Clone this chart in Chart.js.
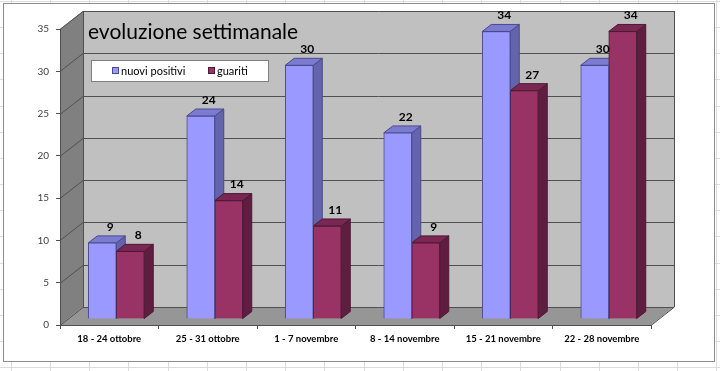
<!DOCTYPE html>
<html>
<head>
<meta charset="utf-8">
<script src="https://cdn.jsdelivr.net/npm/chart.js@4"></script>
<style>
  html, body { margin: 0; padding: 0; background: #fff; }
  #wrap { width: 720px; height: 371px; }
</style>
</head>
<body>
<div id="wrap"><canvas id="grafico" width="720" height="371"></canvas></div>
<script>
// dati
const settimane = ['18 - 24 ottobre', '25 - 31 ottobre', '1 - 7 novembre', '8 - 14 novembre', '15 - 21 novembre', '22 - 28 novembre'];
const nuoviPositivi = [9, 24, 30, 22, 34, 30];
const guariti = [8, 14, 11, 9, 27, 34];
const yTicks = [0, 5, 10, 15, 20, 25, 30, 35];
const titolo = 'evoluzione settimanale';

// colori: fronte, sopra, lato, bordo
const colBlu = ['#9999ff', '#7b7bd2', '#6363ae', '#4a4a8a'];
const colRosso = ['#993366', '#7a2853', '#5f1e40', '#4d1933'];

// profondita' della scatola 3D e delle barre
const DX = 23, DY = 18;
const BX = 7, BY = 6;
const SX = 9, SY = 7;

function poly(ctx, pts) {
    ctx.beginPath();
    ctx.moveTo(pts[0][0], pts[0][1]);
    for (let i = 1; i < pts.length; i++) ctx.lineTo(pts[i][0], pts[i][1]);
    ctx.closePath();
}

const scatola3d = {
    id: 'scatola3d',
    beforeDraw(chart) {
        const ctx = chart.ctx;
        const { left, right } = chart.chartArea;
        const ys = chart.scales.y;
        const y0 = ys.getPixelForValue(yTicks[0]);
        const yTop = ys.getPixelForValue(yTicks[yTicks.length - 1]);
        ctx.save();
        // foglio di calcolo dietro
        ctx.fillStyle = '#fff';
        ctx.fillRect(0, 0, chart.width, chart.height);
        ctx.strokeStyle = '#dcdcdc';
        ctx.lineWidth = 1;
        ctx.beginPath();
        for (let x = 10.8; x < chart.width; x += 39.2) {
            const px = Math.round(x) + 0.5;
            ctx.moveTo(px, 0); ctx.lineTo(px, chart.height);
        }
        for (let y = 1; y < chart.height; y += 26.15) {
            const py = Math.round(y) + 0.5;
            ctx.moveTo(0, py); ctx.lineTo(chart.width, py);
        }
        ctx.stroke();
        // cornice del grafico
        ctx.fillStyle = '#fff';
        ctx.fillRect(3, 3, 712, 359);
        ctx.strokeStyle = '#8c8c8c';
        ctx.strokeRect(3.5, 3.5, 711, 358);

        // parete sinistra
        ctx.fillStyle = '#808080';
        poly(ctx, [[left, yTop], [left + DX, yTop - DY], [left + DX, y0 - DY], [left, y0]]);
        ctx.fill();
        // parete di fondo
        ctx.fillStyle = '#c0c0c0';
        ctx.fillRect(left + DX, yTop - DY, right - left, y0 - yTop);
        // pavimento
        ctx.fillStyle = '#969696';
        poly(ctx, [[left, y0], [right, y0], [right + DX, y0 - DY], [left + DX, y0 - DY]]);
        ctx.fill();

        // griglia
        ctx.strokeStyle = '#505050';
        ctx.lineWidth = 1;
        ctx.beginPath();
        yTicks.forEach(v => {
            const py = Math.round(ys.getPixelForValue(v)) + 0.5;
            ctx.moveTo(left, py);
            ctx.lineTo(left + DX, py - DY);
            ctx.lineTo(right + DX, py - DY);
        });
        ctx.moveTo(left + DX + 0.5, yTop - DY);
        ctx.lineTo(left + DX + 0.5, y0 - DY);
        ctx.moveTo(right + DX + 0.5, yTop - DY);
        ctx.lineTo(right + DX + 0.5, y0 - DY);
        ctx.lineTo(right, y0 + 0.5);
        ctx.stroke();

        // titolo
        ctx.fillStyle = '#000';
        ctx.font = '21px Lato';
        ctx.textBaseline = 'alphabetic';
        ctx.textAlign = 'left';
        ctx.fillText(titolo, 88, 39);

        // legenda
        ctx.fillStyle = '#fff';
        ctx.fillRect(91, 60, 177, 21);
        ctx.strokeStyle = '#808080';
        ctx.strokeRect(91.5, 60.5, 177, 21);
        const voci = [[112, 121], [208, 217]];
        ctx.font = '11px Lato';
        ctx.textBaseline = 'middle';
        chart.data.datasets.forEach((ds, i) => {
            ctx.fillStyle = ds.backgroundColor;
            ctx.fillRect(voci[i][0], 67, 7, 7);
            ctx.strokeStyle = ds.borderColor;
            ctx.strokeRect(voci[i][0] + 0.5, 67.5, 6, 6);
            ctx.fillStyle = '#000';
            ctx.fillText(ds.label, voci[i][1], 71);
        });
        ctx.restore();
    },
    beforeDatasetsDraw(chart) {
        const ctx = chart.ctx;
        ctx.save();
        ctx.translate(BX, -BY);
        // lati e tetti prima dei fronti
        chart.data.datasets.forEach((ds, i) => {
            const c = ds.facce;
            chart.getDatasetMeta(i).data.forEach(bar => {
                const x1 = bar.x - bar.width / 2, x2 = bar.x + bar.width / 2;
                const yt = bar.y, yb = bar.base;
                ctx.lineWidth = 1;
                ctx.strokeStyle = c[3];
                ctx.fillStyle = c[2];
                poly(ctx, [[x2, yt], [x2 + SX, yt - SY], [x2 + SX, yb - SY], [x2, yb]]);
                ctx.fill(); ctx.stroke();
                ctx.fillStyle = c[1];
                poly(ctx, [[x1, yt], [x2, yt], [x2 + SX, yt - SY], [x1 + SX, yt - SY]]);
                ctx.fill(); ctx.stroke();
            });
        });
    },
    afterDatasetsDraw(chart) {
        const ctx = chart.ctx;
        ctx.restore();
        ctx.save();
        ctx.fillStyle = '#000';
        ctx.font = 'bold 12px Lato';
        ctx.textAlign = 'center';
        ctx.textBaseline = 'middle';
        chart.data.datasets.forEach((ds, i) => {
            chart.getDatasetMeta(i).data.forEach((bar, j) => {
                ctx.fillText(String(ds.data[j]), bar.x + BX + 8, bar.y - BY - 16);
            });
        });
        ctx.restore();
    }
};

new Chart(document.getElementById('grafico'), {
    type: 'bar',
    data: {
        labels: settimane,
        datasets: [{
            label: 'nuovi positivi',
            data: nuoviPositivi,
            backgroundColor: colBlu[0],
            borderColor: colBlu[3],
            borderWidth: 1,
            facce: colBlu,
            barThickness: 28
        }, {
            label: 'guariti',
            data: guariti,
            backgroundColor: colRosso[0],
            borderColor: colRosso[3],
            borderWidth: 1,
            facce: colRosso,
            barThickness: 28
        }]
    },
    options: {
        responsive: false,
        animation: false,
        layout: { padding: { left: 10, right: 69, top: 29, bottom: 10 } },
        plugins: {
            legend: { display: false },
            tooltip: { enabled: false }
        },
        scales: {
            x: {
                offset: true,
                afterFit(s) { s.height = 36; },
                grid: { offset: true, drawOnChartArea: false, tickLength: 4, color: '#505050' },
                border: { color: '#505050' },
                ticks: {
                    autoSkip: false,
                    maxRotation: 0,
                    padding: 4,
                    color: '#000',
                    font: { family: 'Lato', size: 9.5, weight: 'bold' }
                }
            },
            y: {
                min: 0,
                max: 35,
                afterFit(s) { s.width = 50; },
                afterBuildTicks(s) { s.ticks = yTicks.map(v => ({ value: v })); },
                grid: { drawOnChartArea: false, tickLength: 4, color: '#505050' },
                border: { color: '#505050' },
                ticks: {
                    padding: 7,
                    color: '#404040',
                    font: { family: 'Lato', size: 10 }
                }
            }
        }
    },
    plugins: [scatola3d]
});
</script>
</body>
</html>
